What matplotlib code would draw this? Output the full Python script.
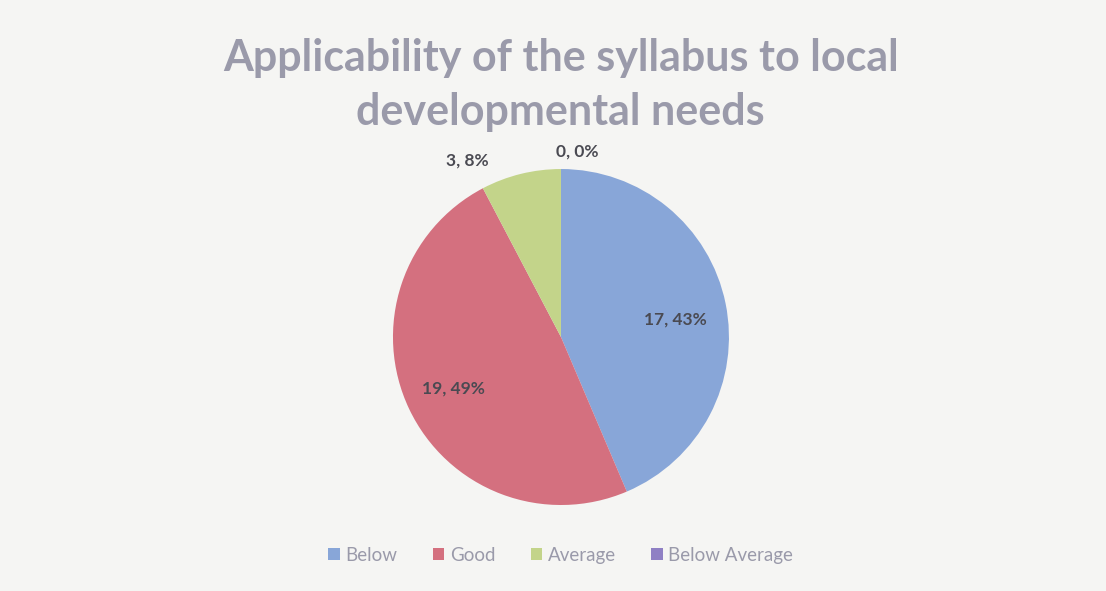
import numpy as np
from matplotlib import pyplot as plt

categories = ["Below", "Good", "Average", "Below Average"]
counts = [17, 19, 3, 0]
percents = [43, 49, 8, 0]

COLORS = ["#88a6d8", "#d4707f", "#c3d48a", "#8f80c4"]
BG = "#f5f5f3"
# label placement (radius, angle offset in degrees) per slice
LABEL_POS = [(0.69, -3.0), (0.71, 0.0), (1.19, 14.0), (1.11, -5.0)]

plt.rcParams['font.family'] = ['Lato', 'DejaVu Sans']

fig = plt.figure(figsize=(11.06, 5.91), dpi=100, facecolor=BG)
ax = fig.add_axes([0.3553, 0.1455, 0.3038, 0.5685])
ax.set_facecolor(BG)

wedges, _ = ax.pie(counts, colors=COLORS, startangle=90, counterclock=False,
                   radius=1.0, wedgeprops=dict(linewidth=0))
ax.set_xlim(-1, 1)
ax.set_ylim(-1, 1)
ax.set_aspect('equal')
ax.axis('off')

for w, c, p, (r, off) in zip(wedges, counts, percents, LABEL_POS):
    mid = np.deg2rad((w.theta1 + w.theta2) / 2 + off)
    ax.text(r * np.cos(mid), r * np.sin(mid), f"{c}, {p}%", ha='center', va='center',
            fontsize=12.5, fontweight='bold', color='#4a4a52', clip_on=False)

fig.text(0.507, 0.902, "Applicability of the syllabus to local", ha='center', va='center',
         fontsize=31, fontweight='bold', color='#9a9aaa')
fig.text(0.507, 0.81, "developmental needs", ha='center', va='center',
         fontsize=31, fontweight='bold', color='#9a9aaa')

leg = fig.legend(wedges, categories, loc='center', bbox_to_anchor=(0.507, 0.06), ncol=4,
                 frameon=False, fontsize=13.5, handlelength=0.6, handleheight=0.6,
                 handletextpad=0.3, columnspacing=1.9)
for t in leg.get_texts():
    t.set_color('#9a9aaa')

fig.savefig('out.png', dpi=100, facecolor=BG)
